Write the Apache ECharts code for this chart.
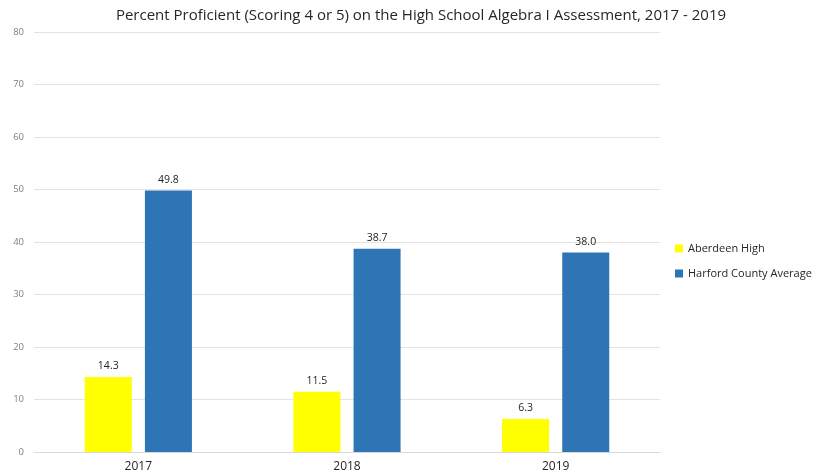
<!DOCTYPE html>
<html><head><meta charset="utf-8">
<script src="https://cdn.jsdelivr.net/npm/echarts@6/dist/echarts.min.js"></script>
<style>html,body{margin:0;padding:0;background:#fff}#c{width:815px;height:473px}</style>
</head><body><div id="c"></div>
<script>
const categories = ['2017', '2018', '2019'];
const aberdeen = [14.3, 11.5, 6.3];
const harford = [49.8, 38.7, 38.0];
const yTicks = { min: 0, max: 80, interval: 10 };

const chart = echarts.init(document.getElementById('c'));
const font = '"Open Sans", sans-serif';
chart.setOption({
  animation: false,
  title: {
    text: 'Percent Proficient (Scoring 4 or 5) on the High School Algebra I Assessment, 2017 - 2019',
    left: 416, top: 3, textAlign: 'center',
    textStyle: { fontFamily: font, fontSize: 15, fontWeight: 'normal', color: '#262626' }
  },
  legend: {
    orient: 'vertical', left: 670, top: 238, itemGap: 14,
    itemWidth: 8, itemHeight: 8, icon: 'rect',
    textStyle: { fontFamily: font, fontSize: 11, color: '#262626' }
  },
  grid: { left: 34, right: 155, top: 32, bottom: 21 },
  xAxis: {
    type: 'category', data: categories,
    axisLine: { lineStyle: { color: '#d9d9d9' } },
    axisTick: { show: false },
    axisLabel: { fontFamily: font, fontSize: 12, color: '#262626', margin: 9 }
  },
  yAxis: {
    type: 'value', min: yTicks.min, max: yTicks.max, interval: yTicks.interval,
    axisLine: { show: false }, axisTick: { show: false },
    splitLine: { lineStyle: { color: '#e3e3e3' } },
    axisLabel: { fontFamily: font, fontSize: 9.5, color: '#7f7f7f', margin: 10 }
  },
  series: [
    { name: 'Aberdeen High', type: 'bar', data: aberdeen, barWidth: 47, barGap: '28%',
      itemStyle: { color: '#ffff00' },
      label: { show: true, position: 'top', formatter: p => p.value.toFixed(1), fontFamily: font, fontSize: 10.5, color: '#262626' } },
    { name: 'Harford County Average', type: 'bar', data: harford, barWidth: 47,
      itemStyle: { color: '#2e75b6' },
      label: { show: true, position: 'top', formatter: p => p.value.toFixed(1), fontFamily: font, fontSize: 10.5, color: '#262626' } }
  ]
});
</script></body></html>
